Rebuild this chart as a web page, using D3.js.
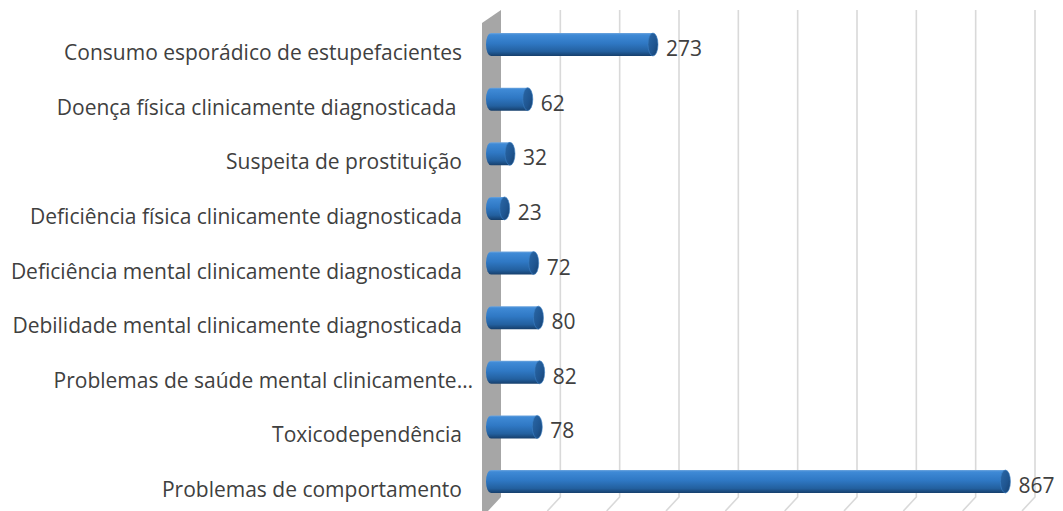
<!DOCTYPE html>
<html>
<head>
<meta charset="utf-8">
<script src="https://cdn.jsdelivr.net/npm/d3@7"></script>
<style>
  html, body { margin: 0; padding: 0; background: #ffffff; }
  svg { display: block; }
  text { font-family: "Open Sans", "Liberation Sans", sans-serif; fill: #404040; }
</style>
</head>
<body>
<svg id="chart" width="1063" height="511"></svg>
<script>
// Categories, top to bottom
const categories = [
  "Consumo esporádico de estupefacientes",
  "Doença física clinicamente diagnosticada ",
  "Suspeita de prostituição",
  "Deficiência física clinicamente diagnosticada",
  "Deficiência mental clinicamente diagnosticada",
  "Debilidade mental clinicamente diagnosticada",
  "Problemas de saúde mental clinicamente…",
  "Toxicodependência",
  "Problemas de comportamento"
];
const values = [273, 62, 32, 23, 72, 80, 82, 78, 867];
const gridTicks = [100, 200, 300, 400, 500, 600, 700, 800, 900];

const W = 1063, H = 511;
const svg = d3.select("#chart");

// 3D geometry: back wall plane and front plane offset
const depthX = 13, depthY = 14;   // floor slant of gridlines
const barShift = 10;              // front of bars relative to the back plane
const wallTop = 10, floorY = 497;

const xBack = d3.scaleLinear().domain([0, 900]).range([501, 1035]);
const xFront = v => xBack(v) - barShift;
const y = d3.scalePoint().domain(categories).range([44.5, 481.5]);
const barH = 23, capRx = 5;

// gradients
const defs = svg.append("defs");
const body = defs.append("linearGradient").attr("id", "barBody")
  .attr("x1", 0).attr("y1", 0).attr("x2", 0).attr("y2", 1);
[[0, "#6fa6de"], [0.08, "#3f8ad6"], [0.45, "#2f78c4"], [0.8, "#23609f"], [1, "#163f6c"]]
  .forEach(([o, c]) => body.append("stop").attr("offset", o).attr("stop-color", c));
const cap = defs.append("linearGradient").attr("id", "barCap")
  .attr("x1", 0).attr("y1", 0).attr("x2", 1).attr("y2", 1);
[[0, "#2a68a8"], [0.6, "#1f5590"], [1, "#173f6c"]]
  .forEach(([o, c]) => cap.append("stop").attr("offset", o).attr("stop-color", c));

// gridlines with their floor slant
const grid = svg.append("g").attr("fill", "none").attr("stroke", "#d9d9d9").attr("stroke-width", 1.6);
gridTicks.forEach(t => {
  const gx = xBack(t);
  grid.append("path")
    .attr("d", `M${gx},${wallTop} L${gx},${floorY} L${gx - depthX},${floorY + depthY}`);
});

// side wall
const wx = xBack(0);
svg.append("path")
  .attr("d", `M${wx - 19},${wallTop + 13} L${wx},${wallTop} L${wx},${floorY} L${wx - depthX},${floorY + depthY} L${wx - 19},${floorY + depthY}Z`)
  .attr("fill", "#a6a6a6");

// cylinder bars
const bars = svg.append("g").selectAll("g").data(categories).join("g");
bars.each(function(c, i) {
  const g = d3.select(this);
  const v = values[i];
  const x0 = xFront(0), x1 = xFront(v), cy = y(c);
  g.append("path")
    .attr("d", `M${x1},${cy - barH / 2} L${x0},${cy - barH / 2}
                A${capRx},${barH / 2} 0 0 0 ${x0},${cy + barH / 2}
                L${x1},${cy + barH / 2}Z`)
    .attr("fill", "url(#barBody)");
  g.append("ellipse")
    .attr("cx", x1).attr("cy", cy).attr("rx", capRx).attr("ry", barH / 2)
    .attr("fill", "url(#barCap)")
    .attr("stroke", "#3b7fc4").attr("stroke-width", 0.6);
});

// value labels
svg.append("g").selectAll("text").data(categories).join("text")
  .attr("x", (c, i) => xFront(values[i]) + capRx + 8)
  .attr("y", c => y(c) + 3.5)
  .attr("dominant-baseline", "central")
  .attr("font-size", 21)
  .text((c, i) => values[i]);

// category labels (a truncated label runs a little further right)
svg.append("g").selectAll("text").data(categories).join("text")
  .attr("x", c => c.endsWith("…") ? 473 : 462)
  .attr("y", c => y(c) + 7.5)
  .attr("text-anchor", "end")
  .attr("dominant-baseline", "central")
  .attr("font-size", 21)
  .style("white-space", "pre")
  .text(c => c);
</script>
</body>
</html>
